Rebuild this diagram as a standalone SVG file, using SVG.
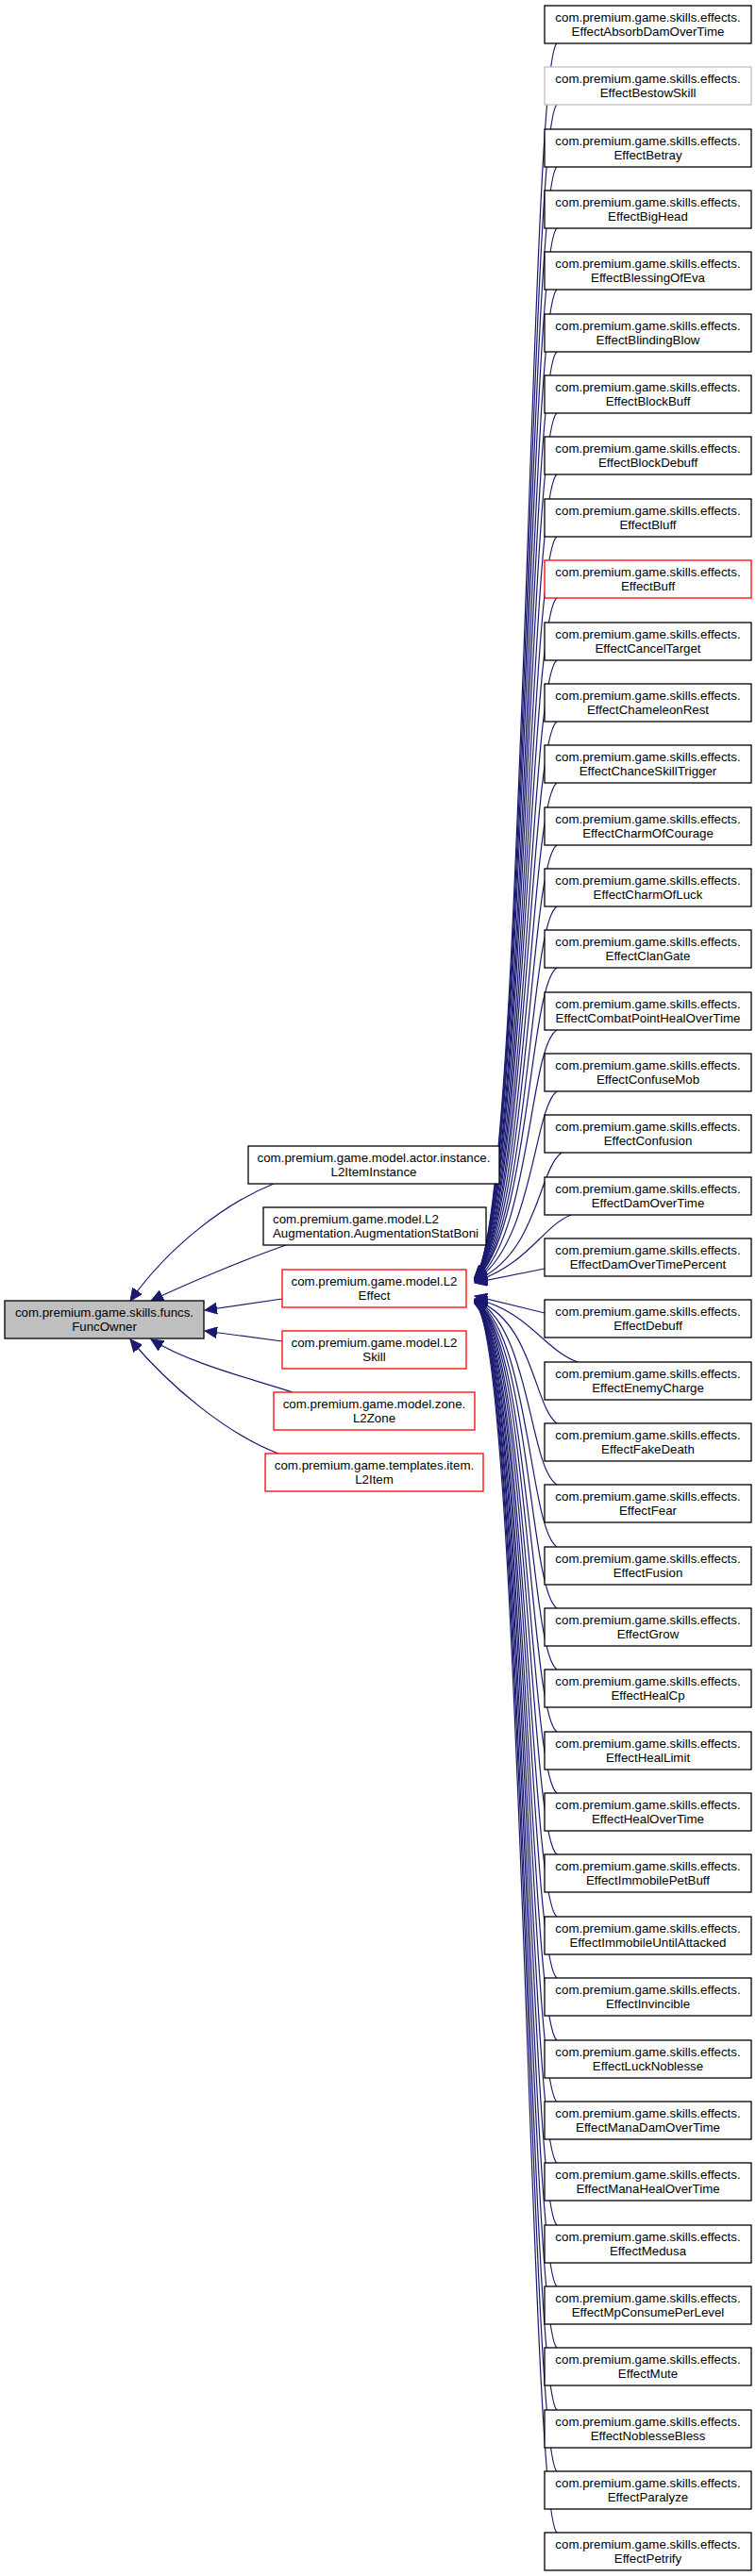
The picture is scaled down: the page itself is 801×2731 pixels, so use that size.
<svg xmlns="http://www.w3.org/2000/svg" width="801" height="2731" viewBox="0 0 801 2731">
<style>
text{font-family:"Liberation Sans",Arial,sans-serif;font-size:13.3px;fill:#000}
.c{text-anchor:middle}
rect{fill:#fff;stroke:#000;stroke-width:1.3}
.red{stroke:#ff0000}
.gray{stroke:#bfbfbf}
.hl{fill:#bfbfbf}
.e{fill:none;stroke:#191970;stroke-width:1.2}
</style>
<defs>
<marker id="a" markerUnits="userSpaceOnUse" markerWidth="14" markerHeight="12" refX="13" refY="6" orient="auto">
<path d="M0,0 L13,6 L0,12 Z" fill="#191970" stroke="#191970"/>
</marker>
</defs>
<g id="connectors">
<path class="e" marker-end="url(#a)" d="M290,1255 C240,1275 180,1320 138,1379"/>
<path class="e" marker-end="url(#a)" d="M303,1320 C260,1335 200,1360 160,1379"/>
<path class="e" marker-end="url(#a)" d="M299,1377 L217,1389"/>
<path class="e" marker-end="url(#a)" d="M299,1422 L217,1411"/>
<path class="e" marker-end="url(#a)" d="M310,1476 C260,1460 200,1445 160,1420"/>
<path class="e" marker-end="url(#a)" d="M295,1541 C240,1520 180,1470 138,1420"/>
<path class="e" marker-end="url(#a)" d="M590,46 C560,70 556,1300 503,1354"/>
<path class="e" marker-end="url(#a)" d="M590,111 C560,135 556,1300 503,1354"/>
<path class="e" marker-end="url(#a)" d="M590,177 C560,200 556,1300 503,1354"/>
<path class="e" marker-end="url(#a)" d="M590,242 C560,265 556,1300 503,1355"/>
<path class="e" marker-end="url(#a)" d="M590,307 C560,330 557,1300 503,1355"/>
<path class="e" marker-end="url(#a)" d="M590,373 C560,395 557,1300 503,1355"/>
<path class="e" marker-end="url(#a)" d="M590,438 C560,460 557,1300 503,1355"/>
<path class="e" marker-end="url(#a)" d="M590,503 C560,525 558,1300 503,1355"/>
<path class="e" marker-end="url(#a)" d="M590,569 C560,590 558,1305 503,1356"/>
<path class="e" marker-end="url(#a)" d="M590,634 C560,655 558,1305 503,1356"/>
<path class="e" marker-end="url(#a)" d="M590,700 C560,720 559,1305 503,1356"/>
<path class="e" marker-end="url(#a)" d="M590,765 C560,785 559,1305 503,1356"/>
<path class="e" marker-end="url(#a)" d="M590,830 C560,850 560,1305 503,1357"/>
<path class="e" marker-end="url(#a)" d="M590,896 C560,915 560,1310 503,1357"/>
<path class="e" marker-end="url(#a)" d="M590,961 C560,980 561,1310 503,1357"/>
<path class="e" marker-end="url(#a)" d="M590,1026 C560,1045 561,1310 503,1357"/>
<path class="e" marker-end="url(#a)" d="M590,1092 C560,1110 562,1315 503,1358"/>
<path class="e" marker-end="url(#a)" d="M590,1157 C565,1175 565,1320 503,1358"/>
<path class="e" marker-end="url(#a)" d="M595,1222 C570,1240 570,1330 503,1358"/>
<path class="e" marker-end="url(#a)" d="M605,1288 C575,1300 560,1340 503,1359"/>
<path class="e" marker-end="url(#a)" d="M577,1345 L503,1360"/>
<path class="e" marker-end="url(#a)" d="M577,1392 L503,1374"/>
<path class="e" marker-end="url(#a)" d="M612,1444 C575,1430 560,1390 503,1377"/>
<path class="e" marker-end="url(#a)" d="M590,1509 C565,1490 565,1400 503,1378"/>
<path class="e" marker-end="url(#a)" d="M590,1574 C560,1555 562,1405 503,1378"/>
<path class="e" marker-end="url(#a)" d="M590,1640 C560,1620 561,1410 503,1378"/>
<path class="e" marker-end="url(#a)" d="M590,1705 C560,1685 561,1410 503,1379"/>
<path class="e" marker-end="url(#a)" d="M590,1770 C560,1750 560,1410 503,1379"/>
<path class="e" marker-end="url(#a)" d="M590,1836 C560,1815 560,1410 503,1379"/>
<path class="e" marker-end="url(#a)" d="M590,1901 C560,1880 559,1410 503,1379"/>
<path class="e" marker-end="url(#a)" d="M590,1966 C560,1945 559,1410 503,1379"/>
<path class="e" marker-end="url(#a)" d="M590,2032 C560,2010 558,1410 503,1380"/>
<path class="e" marker-end="url(#a)" d="M590,2097 C560,2075 558,1410 503,1380"/>
<path class="e" marker-end="url(#a)" d="M590,2163 C560,2140 557,1410 503,1380"/>
<path class="e" marker-end="url(#a)" d="M590,2228 C560,2205 557,1410 503,1380"/>
<path class="e" marker-end="url(#a)" d="M590,2293 C560,2270 556,1410 503,1380"/>
<path class="e" marker-end="url(#a)" d="M590,2359 C560,2335 556,1410 503,1381"/>
<path class="e" marker-end="url(#a)" d="M590,2424 C560,2400 555,1410 503,1381"/>
<path class="e" marker-end="url(#a)" d="M590,2489 C560,2465 555,1410 503,1381"/>
<path class="e" marker-end="url(#a)" d="M590,2555 C560,2530 554,1410 503,1381"/>
<path class="e" marker-end="url(#a)" d="M590,2620 C560,2595 554,1410 503,1382"/>
<path class="e" marker-end="url(#a)" d="M590,2685 C560,2660 553,1410 503,1382"/>
</g>
<g id="FuncOwner"><rect class="hl" x="5" y="1379" width="211" height="40"/><text class="c" x="110.5" y="1396">com.premium.game.skills.funcs.</text><text class="c" x="110.5" y="1411">FuncOwner</text></g>
<g id="L2ItemInstance"><rect x="263" y="1215" width="266" height="40"/><text class="c" x="396" y="1232">com.premium.game.model.actor.instance.</text><text class="c" x="396" y="1247">L2ItemInstance</text></g>
<g id="AugmentationStatBoni"><rect x="279" y="1280" width="236" height="40"/><text x="289" y="1297">com.premium.game.model.L2</text><text x="289" y="1312">Augmentation.AugmentationStatBoni</text></g>
<g id="L2Effect"><rect class="red" x="299" y="1346" width="195" height="40"/><text class="c" x="396.5" y="1363">com.premium.game.model.L2</text><text class="c" x="396.5" y="1378">Effect</text></g>
<g id="L2Skill"><rect class="red" x="299" y="1411" width="195" height="40"/><text class="c" x="396.5" y="1428">com.premium.game.model.L2</text><text class="c" x="396.5" y="1443">Skill</text></g>
<g id="L2Zone"><rect class="red" x="290" y="1476" width="213" height="40"/><text class="c" x="396.5" y="1493">com.premium.game.model.zone.</text><text class="c" x="396.5" y="1508">L2Zone</text></g>
<g id="L2Item"><rect class="red" x="281" y="1541" width="231" height="40"/><text class="c" x="396.5" y="1558">com.premium.game.templates.item.</text><text class="c" x="396.5" y="1573">L2Item</text></g>
<g id="n0" transform="translate(577,6)"><rect width="219" height="40"/><text class="c" x="109.5" y="17">com.premium.game.skills.effects.</text><text class="c" x="109.5" y="32">EffectAbsorbDamOverTime</text></g>
<g id="n1" transform="translate(577,71)"><rect class="gray" width="219" height="40"/><text class="c" x="109.5" y="17">com.premium.game.skills.effects.</text><text class="c" x="109.5" y="32">EffectBestowSkill</text></g>
<g id="n2" transform="translate(577,137)"><rect width="219" height="40"/><text class="c" x="109.5" y="17">com.premium.game.skills.effects.</text><text class="c" x="109.5" y="32">EffectBetray</text></g>
<g id="n3" transform="translate(577,202)"><rect width="219" height="40"/><text class="c" x="109.5" y="17">com.premium.game.skills.effects.</text><text class="c" x="109.5" y="32">EffectBigHead</text></g>
<g id="n4" transform="translate(577,267)"><rect width="219" height="40"/><text class="c" x="109.5" y="17">com.premium.game.skills.effects.</text><text class="c" x="109.5" y="32">EffectBlessingOfEva</text></g>
<g id="n5" transform="translate(577,333)"><rect width="219" height="40"/><text class="c" x="109.5" y="17">com.premium.game.skills.effects.</text><text class="c" x="109.5" y="32">EffectBlindingBlow</text></g>
<g id="n6" transform="translate(577,398)"><rect width="219" height="40"/><text class="c" x="109.5" y="17">com.premium.game.skills.effects.</text><text class="c" x="109.5" y="32">EffectBlockBuff</text></g>
<g id="n7" transform="translate(577,463)"><rect width="219" height="40"/><text class="c" x="109.5" y="17">com.premium.game.skills.effects.</text><text class="c" x="109.5" y="32">EffectBlockDebuff</text></g>
<g id="n8" transform="translate(577,529)"><rect width="219" height="40"/><text class="c" x="109.5" y="17">com.premium.game.skills.effects.</text><text class="c" x="109.5" y="32">EffectBluff</text></g>
<g id="n9" transform="translate(577,594)"><rect class="red" width="219" height="40"/><text class="c" x="109.5" y="17">com.premium.game.skills.effects.</text><text class="c" x="109.5" y="32">EffectBuff</text></g>
<g id="n10" transform="translate(577,660)"><rect width="219" height="40"/><text class="c" x="109.5" y="17">com.premium.game.skills.effects.</text><text class="c" x="109.5" y="32">EffectCancelTarget</text></g>
<g id="n11" transform="translate(577,725)"><rect width="219" height="40"/><text class="c" x="109.5" y="17">com.premium.game.skills.effects.</text><text class="c" x="109.5" y="32">EffectChameleonRest</text></g>
<g id="n12" transform="translate(577,790)"><rect width="219" height="40"/><text class="c" x="109.5" y="17">com.premium.game.skills.effects.</text><text class="c" x="109.5" y="32">EffectChanceSkillTrigger</text></g>
<g id="n13" transform="translate(577,856)"><rect width="219" height="40"/><text class="c" x="109.5" y="17">com.premium.game.skills.effects.</text><text class="c" x="109.5" y="32">EffectCharmOfCourage</text></g>
<g id="n14" transform="translate(577,921)"><rect width="219" height="40"/><text class="c" x="109.5" y="17">com.premium.game.skills.effects.</text><text class="c" x="109.5" y="32">EffectCharmOfLuck</text></g>
<g id="n15" transform="translate(577,986)"><rect width="219" height="40"/><text class="c" x="109.5" y="17">com.premium.game.skills.effects.</text><text class="c" x="109.5" y="32">EffectClanGate</text></g>
<g id="n16" transform="translate(577,1052)"><rect width="219" height="40"/><text class="c" x="109.5" y="17">com.premium.game.skills.effects.</text><text class="c" x="109.5" y="32">EffectCombatPointHealOverTime</text></g>
<g id="n17" transform="translate(577,1117)"><rect width="219" height="40"/><text class="c" x="109.5" y="17">com.premium.game.skills.effects.</text><text class="c" x="109.5" y="32">EffectConfuseMob</text></g>
<g id="n18" transform="translate(577,1182)"><rect width="219" height="40"/><text class="c" x="109.5" y="17">com.premium.game.skills.effects.</text><text class="c" x="109.5" y="32">EffectConfusion</text></g>
<g id="n19" transform="translate(577,1248)"><rect width="219" height="40"/><text class="c" x="109.5" y="17">com.premium.game.skills.effects.</text><text class="c" x="109.5" y="32">EffectDamOverTime</text></g>
<g id="n20" transform="translate(577,1313)"><rect width="219" height="40"/><text class="c" x="109.5" y="17">com.premium.game.skills.effects.</text><text class="c" x="109.5" y="32">EffectDamOverTimePercent</text></g>
<g id="n21" transform="translate(577,1378)"><rect width="219" height="40"/><text class="c" x="109.5" y="17">com.premium.game.skills.effects.</text><text class="c" x="109.5" y="32">EffectDebuff</text></g>
<g id="n22" transform="translate(577,1444)"><rect width="219" height="40"/><text class="c" x="109.5" y="17">com.premium.game.skills.effects.</text><text class="c" x="109.5" y="32">EffectEnemyCharge</text></g>
<g id="n23" transform="translate(577,1509)"><rect width="219" height="40"/><text class="c" x="109.5" y="17">com.premium.game.skills.effects.</text><text class="c" x="109.5" y="32">EffectFakeDeath</text></g>
<g id="n24" transform="translate(577,1574)"><rect width="219" height="40"/><text class="c" x="109.5" y="17">com.premium.game.skills.effects.</text><text class="c" x="109.5" y="32">EffectFear</text></g>
<g id="n25" transform="translate(577,1640)"><rect width="219" height="40"/><text class="c" x="109.5" y="17">com.premium.game.skills.effects.</text><text class="c" x="109.5" y="32">EffectFusion</text></g>
<g id="n26" transform="translate(577,1705)"><rect width="219" height="40"/><text class="c" x="109.5" y="17">com.premium.game.skills.effects.</text><text class="c" x="109.5" y="32">EffectGrow</text></g>
<g id="n27" transform="translate(577,1770)"><rect width="219" height="40"/><text class="c" x="109.5" y="17">com.premium.game.skills.effects.</text><text class="c" x="109.5" y="32">EffectHealCp</text></g>
<g id="n28" transform="translate(577,1836)"><rect width="219" height="40"/><text class="c" x="109.5" y="17">com.premium.game.skills.effects.</text><text class="c" x="109.5" y="32">EffectHealLimit</text></g>
<g id="n29" transform="translate(577,1901)"><rect width="219" height="40"/><text class="c" x="109.5" y="17">com.premium.game.skills.effects.</text><text class="c" x="109.5" y="32">EffectHealOverTime</text></g>
<g id="n30" transform="translate(577,1966)"><rect width="219" height="40"/><text class="c" x="109.5" y="17">com.premium.game.skills.effects.</text><text class="c" x="109.5" y="32">EffectImmobilePetBuff</text></g>
<g id="n31" transform="translate(577,2032)"><rect width="219" height="40"/><text class="c" x="109.5" y="17">com.premium.game.skills.effects.</text><text class="c" x="109.5" y="32">EffectImmobileUntilAttacked</text></g>
<g id="n32" transform="translate(577,2097)"><rect width="219" height="40"/><text class="c" x="109.5" y="17">com.premium.game.skills.effects.</text><text class="c" x="109.5" y="32">EffectInvincible</text></g>
<g id="n33" transform="translate(577,2163)"><rect width="219" height="40"/><text class="c" x="109.5" y="17">com.premium.game.skills.effects.</text><text class="c" x="109.5" y="32">EffectLuckNoblesse</text></g>
<g id="n34" transform="translate(577,2228)"><rect width="219" height="40"/><text class="c" x="109.5" y="17">com.premium.game.skills.effects.</text><text class="c" x="109.5" y="32">EffectManaDamOverTime</text></g>
<g id="n35" transform="translate(577,2293)"><rect width="219" height="40"/><text class="c" x="109.5" y="17">com.premium.game.skills.effects.</text><text class="c" x="109.5" y="32">EffectManaHealOverTime</text></g>
<g id="n36" transform="translate(577,2359)"><rect width="219" height="40"/><text class="c" x="109.5" y="17">com.premium.game.skills.effects.</text><text class="c" x="109.5" y="32">EffectMedusa</text></g>
<g id="n37" transform="translate(577,2424)"><rect width="219" height="40"/><text class="c" x="109.5" y="17">com.premium.game.skills.effects.</text><text class="c" x="109.5" y="32">EffectMpConsumePerLevel</text></g>
<g id="n38" transform="translate(577,2489)"><rect width="219" height="40"/><text class="c" x="109.5" y="17">com.premium.game.skills.effects.</text><text class="c" x="109.5" y="32">EffectMute</text></g>
<g id="n39" transform="translate(577,2555)"><rect width="219" height="40"/><text class="c" x="109.5" y="17">com.premium.game.skills.effects.</text><text class="c" x="109.5" y="32">EffectNoblesseBless</text></g>
<g id="n40" transform="translate(577,2620)"><rect width="219" height="40"/><text class="c" x="109.5" y="17">com.premium.game.skills.effects.</text><text class="c" x="109.5" y="32">EffectParalyze</text></g>
<g id="n41" transform="translate(577,2685)"><rect width="219" height="40"/><text class="c" x="109.5" y="17">com.premium.game.skills.effects.</text><text class="c" x="109.5" y="32">EffectPetrify</text></g>
</svg>
